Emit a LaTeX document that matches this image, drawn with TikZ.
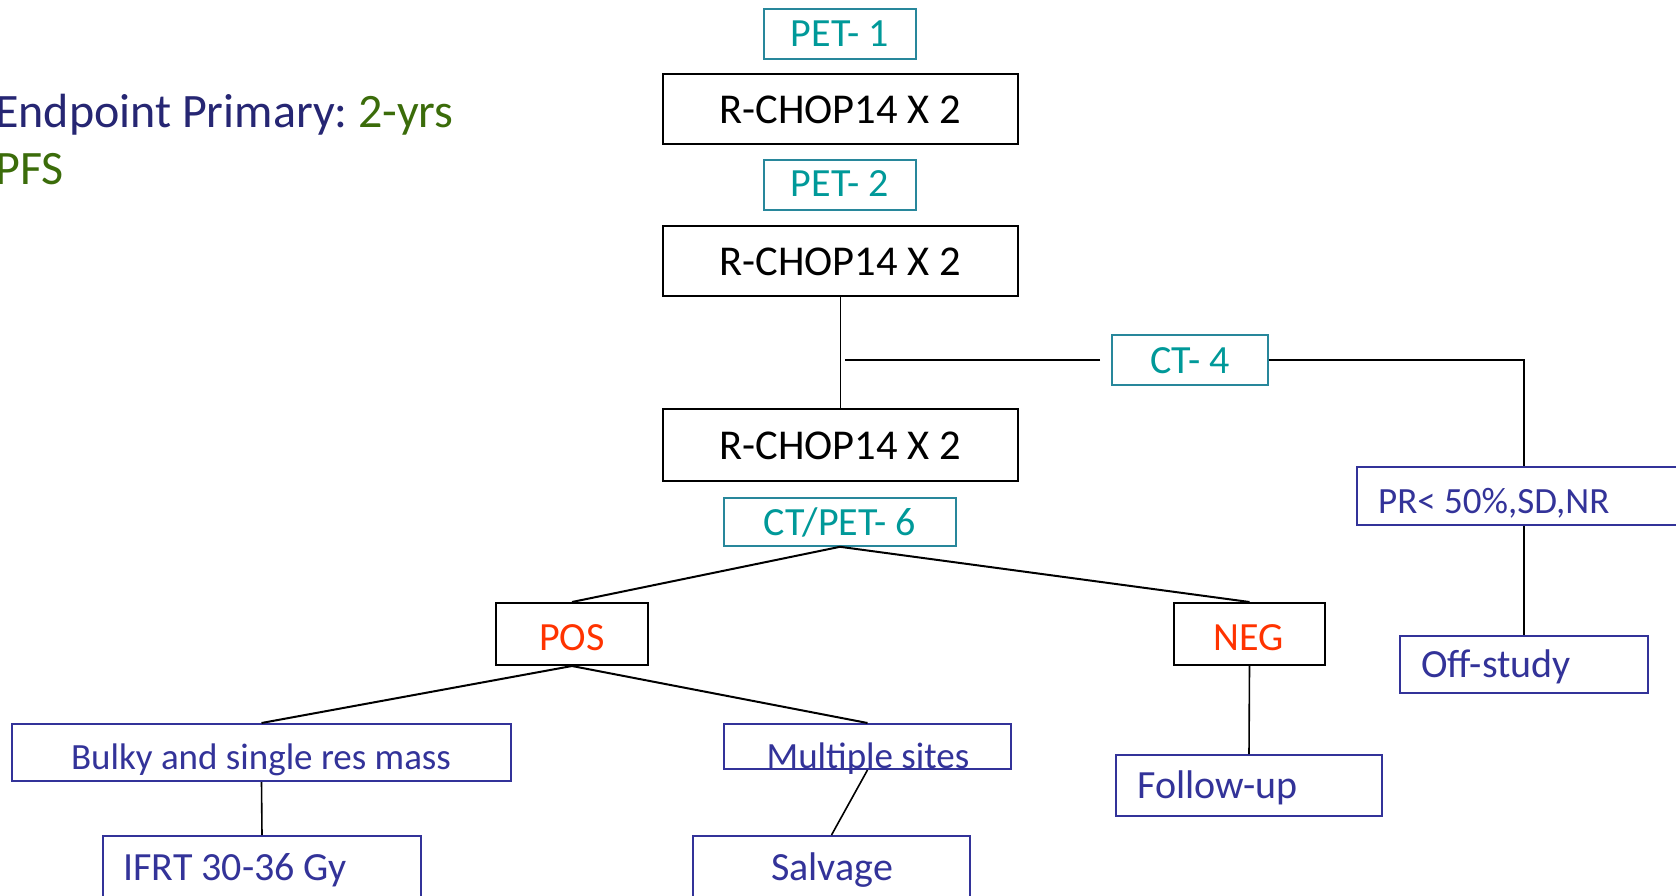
\documentclass[tikz,border=0pt]{standalone}
\usepackage{fontspec}
\setmainfont{Carlito}
\definecolor{navyT}{RGB}{38,38,115}
\definecolor{greenT}{RGB}{59,108,10}
\definecolor{tealT}{RGB}{0,153,153}
\definecolor{tealB}{RGB}{40,135,155}
\definecolor{redT}{RGB}{255,51,0}
\definecolor{blueC}{RGB}{51,51,153}
\begin{document}
\frenchspacing
\begin{tikzpicture}[x=1pt,y=-1pt,
  blackbox/.style={draw=black,line width=2pt,inner sep=0pt},
  tealbox/.style={draw=tealB,line width=1.6pt,inner sep=0pt},
  bluebox/.style={draw=blueC,line width=2pt,inner sep=0pt},
  conn/.style={draw=black,line width=2pt},
  thinconn/.style={draw=black,line width=1.6pt},
  lbl/.style={inner sep=0pt,font=\fontsize{40}{48}\selectfont},
  rlbl/.style={inner sep=0pt,font=\fontsize{42.5}{50}\selectfont},
  slbl/.style={inner sep=0pt,font=\fontsize{37}{44}\selectfont},
  big/.style={inner sep=0pt,font=\fontsize{48}{57}\selectfont}]
\useasboundingbox (0,0) rectangle (1676,896);
\clip (0,0) rectangle (1676,896);
\fill[white] (0,0) rectangle (1676,896);

% title
\node[big,anchor=base west] (t1) at (-5,128) {\color{navyT}Endpoint Primary:\ \color{greenT}2-yrs};
\node[big,anchor=base west] (t2) at (-5,185) {\color{greenT}PFS};

% boxes
\node[tealbox,minimum width=152pt,minimum height=50pt] (pet1) at (840,34) {};
\node[blackbox,minimum width=355pt,minimum height=70pt] (rc1) at (840.5,109) {};
\node[tealbox,minimum width=152pt,minimum height=50pt] (pet2) at (840,185) {};
\node[blackbox,minimum width=355pt,minimum height=70pt] (rc2) at (840.5,261) {};
\node[tealbox,minimum width=156pt,minimum height=50pt] (ct4) at (1190,360) {};
\node[blackbox,minimum width=355pt,minimum height=72pt] (rc3) at (840.5,445) {};
\node[tealbox,minimum width=232pt,minimum height=48pt] (ctpet) at (840,522) {};
\node[blackbox,minimum width=152pt,minimum height=62pt] (pos) at (572,634) {};
\node[blackbox,minimum width=151pt,minimum height=62pt] (neg) at (1249.5,634) {};
\node[bluebox,minimum width=350pt,minimum height=58pt] (pr) at (1532,496) {};
\node[bluebox,minimum width=248pt,minimum height=57pt] (off) at (1524,664.5) {};
\node[bluebox,minimum width=499pt,minimum height=57pt] (bulky) at (261.5,752.5) {};
\node[bluebox,minimum width=287pt,minimum height=45pt] (multi) at (867.5,746.5) {};
\node[bluebox,minimum width=266pt,minimum height=61pt] (follow) at (1249,785.5) {};
\node[bluebox,minimum width=318pt,minimum height=80pt] (ifrt) at (262,876) {};
\node[bluebox,minimum width=277pt,minimum height=80pt] (salv) at (831.5,876) {};

% texts
\node[lbl,anchor=base,text=tealT] (pet1t) at (840,47) {PET- 1};
\node[rlbl,anchor=base] (rc1t) at (840,124) {R-CHOP14 X 2};
\node[lbl,anchor=base,text=tealT] (pet2t) at (840,197) {PET- 2};
\node[rlbl,anchor=base] (rc2t) at (840,276) {R-CHOP14 X 2};
\node[lbl,anchor=base,text=tealT] (ct4t) at (1190,373) {CT- 4};
\node[rlbl,anchor=base] (rc3t) at (840,459) {R-CHOP14 X 2};
\node[lbl,anchor=base,text=tealT] (ctpett) at (840,535) {CT/PET- 6};
\node[lbl,anchor=base,text=redT] (post) at (572,650) {POS};
\node[lbl,anchor=base,text=redT] (negt) at (1249,650) {NEG};
\node[slbl,anchor=base west,text=blueC] (prt) at (1378,513) {PR< 50\%,SD,NR};
\node[lbl,anchor=base west,text=blueC] (offt) at (1421,677) {Off-study};
\node[slbl,anchor=base,text=blueC] (bulkyt) at (261,769) {Bulky and single res mass};
\node[slbl,anchor=base,text=blueC] (multit) at (868,768) {Multiple sites};
\node[lbl,anchor=base west,text=blueC] (followt) at (1137,798) {Follow-up};
\node[lbl,anchor=base west,text=blueC] (ifrtt) at (123,880) {IFRT 30-36 Gy};
\node[lbl,anchor=base,text=blueC] (salvt) at (832,880) {Salvage};

% connectors
\draw[thinconn] (rc2.south) -- (rc3.north);
\draw[thinconn] ([xshift=-11pt]ct4.west) -- ([xshift=4pt]rc2.south |- ct4.west);
\draw[thinconn] (ct4.east) -| (off.north |- pr.north);
\draw[thinconn] (off.north |- pr.south) -- (off.north);
\draw[conn] (ctpet.south) -- (pos.north);
\draw[conn] (ctpet.south) -- (neg.north);
\draw[conn] (pos.south) -- (bulky.north);
\draw[conn] (pos.south) -- (multi.north);
\draw[thinconn] (bulky.south) -- (ifrt.north);
\draw[thinconn] (multi.south) -- (salv.north);
\draw[thinconn] (neg.south) -- (follow.north);
\end{tikzpicture}
\end{document}
